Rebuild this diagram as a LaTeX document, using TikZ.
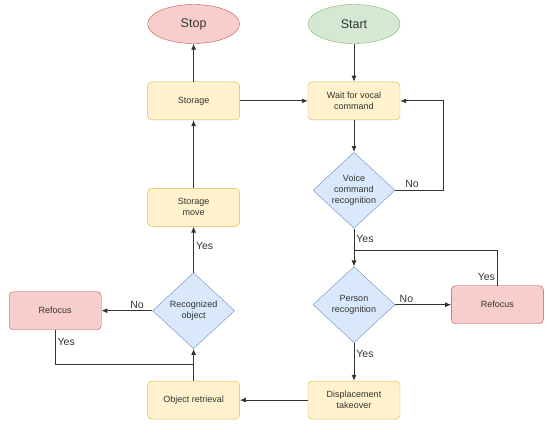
\documentclass[tikz,border=0pt]{standalone}
\usepackage{fontspec}
\setmainfont{Liberation Sans}
\definecolor{procfill}{HTML}{FFF2CC}
\definecolor{procline}{HTML}{D6B656}
\definecolor{decfill}{HTML}{DAE8FC}
\definecolor{decline}{HTML}{6C8EBF}
\definecolor{redfill}{HTML}{F8CECC}
\definecolor{redline}{HTML}{B85450}
\definecolor{greenfill}{HTML}{D5E8D4}
\definecolor{greenline}{HTML}{82B366}
\definecolor{inkgray}{HTML}{333333}
\usetikzlibrary{arrows.meta,calc,positioning,shapes.geometric}

\begin{document}
\begin{tikzpicture}[x=1pt,y=-1pt,>={Latex[length=6pt,width=5pt]},
  every node/.style={text=inkgray},
  proc/.style={draw=procline,fill=procfill,rounded corners=4pt,minimum width=92pt,minimum height=38pt,align=center,font=\fontsize{9}{11}\selectfont},
  redproc/.style={proc,draw=redline,fill=redfill},
  decision/.style={diamond,draw=decline,fill=decfill,aspect=1.08,inner sep=0pt,minimum width=82pt,minimum height=76pt,align=center,font=\fontsize{9}{11}\selectfont},
  terminal/.style={ellipse,draw,minimum width=92pt,minimum height=39pt,font=\fontsize{12.5}{14}\selectfont},
  flow/.style={->,draw=inkgray,line width=0.9pt},
  lbl/.style={font=\fontsize{10.5}{12}\selectfont,inner sep=2pt}]
  \useasboundingbox (0,0) rectangle (550,426);
  % right column
  \node[terminal,draw=greenline,fill=greenfill] (start) at (354,24) {Start};
  \node[proc,below=38pt of start] (wait) {Wait for vocal\\command};
  \node[decision,below=32pt of wait] (voice) {Voice\\command\\recognition};
  \node[decision,below=38pt of voice] (person) {Person\\recognition};
  \node[redproc,right=56pt of person] (refocusR) {Refocus};
  \node[proc,below=38pt of person] (disp) {Displacement\\takeover};
  % left column
  \node[proc,left=68pt of wait] (storage) {Storage};
  \node[terminal,draw=redline,fill=redfill,above=38pt of storage] (stop) {Stop};
  \node[proc,below=68pt of storage] (move) {Storage\\move};
  \node[decision,below=46pt of move] (recog) {Recognized\\object};
  \node[redproc,left=51pt of recog] (refocusL) {Refocus};
  \node[proc,below=32pt of recog] (retrieval) {Object retrieval};
  \coordinate (joinR) at ($(voice.south)!0.58!(person.north)$);
  \coordinate (joinL) at ($(retrieval.north)!0.5!(recog.south)$);

  \draw[flow] (start) -- (wait);
  \draw[flow] (wait) -- (voice);
  \draw[flow] (voice) -- node[lbl,pos=0.28,right] {Yes} (person);
  \draw[flow] (voice.east) -- node[lbl,pos=0.35,above] {No} ++(48,0) |- (wait.east);
  \draw[flow] (person) -- node[lbl,pos=0.2,above] {No} (refocusR);
  \draw[draw=inkgray,line width=0.9pt] (refocusR.north) |- node[lbl,pos=0.12,left] {Yes} (joinR);
  \draw[flow] (person) -- node[lbl,pos=0.3,right] {Yes} (disp);
  \draw[flow] (disp) -- (retrieval);
  \draw[flow] (retrieval) -- (recog);
  \draw[flow] (recog) -- node[lbl,pos=0.57,right] {Yes} (move);
  \draw[flow] (recog) -- node[lbl,pos=0.3,above] {No} (refocusL);
  \draw[draw=inkgray,line width=0.9pt] (refocusL.south) |- node[lbl,pos=0.17,right] {Yes} (joinL);
  \draw[flow] (move) -- (storage);
  \draw[flow] (storage) -- (stop);
  \draw[flow] (storage) -- (wait);
\end{tikzpicture}
\end{document}
